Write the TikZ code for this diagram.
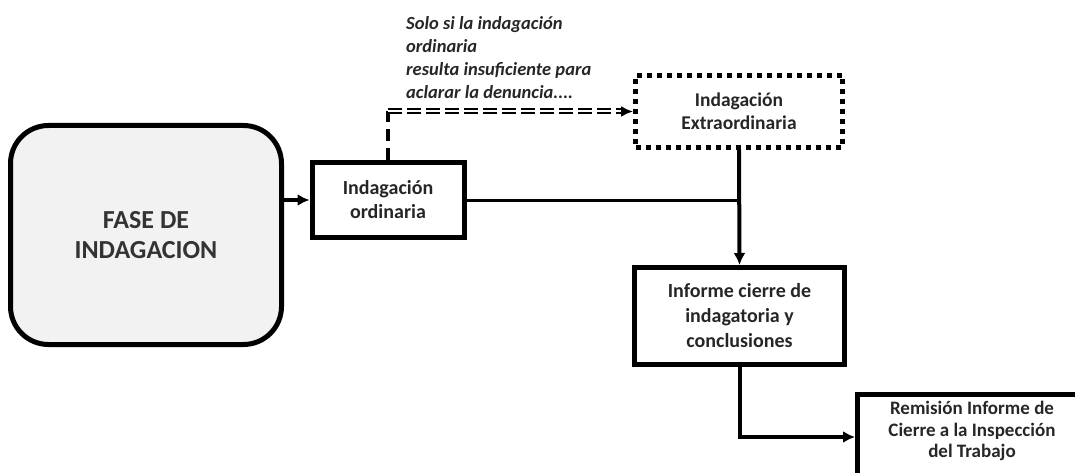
\documentclass[tikz,border=0pt]{standalone}
\usepackage{fontspec}
\setmainfont{Carlito}
\usetikzlibrary{shapes,arrows,arrows.meta,calc}
\tikzstyle{line} = [draw, -{Latex[length=12pt, width=12pt]}, line width=4pt]
\tikzstyle{block} = [draw, rectangle, line width=5pt, text centered, align=center, text=black!85, font=\bfseries\fontsize{20}{24}\selectfont]
\tikzstyle{cloud} = [draw, rectangle, rounded corners=38pt, fill=black!5, line width=5pt, text centered, align=center, text=black!80, font=\bfseries\fontsize{26}{30}\selectfont]
\tikzstyle{dotbox} = [block, dash pattern=on 5pt off 5pt]

\begin{document}
\begin{tikzpicture}[x=1pt, y=-1pt]
        \useasboundingbox (0,0) rectangle (1075,473);
        \clip (0,0) rectangle (1075,473);
        \node[cloud, minimum width=271pt, minimum height=219pt] (fase) at (146,235) {FASE DE\\INDAGACION};
        \node[block, minimum width=152pt, minimum height=75pt] (ord) at (388,200) {Indagación\\ordinaria};
        \node[dotbox, minimum width=207pt, minimum height=72pt, font=\bfseries\fontsize{19.5}{23}\selectfont] (ext) at (739,111.5) {Indagación\\Extraordinaria};
        \node[block, minimum width=210pt, minimum height=97pt, font=\bfseries\fontsize{20}{25}\selectfont] (inf) at (739.5,316) {Informe cierre de\\indagatoria y\\conclusiones};
        \node[block, anchor=north west, minimum width=229pt, minimum height=85pt,
            label={[anchor=north, yshift=-6pt, align=center, text=black!85, font=\bfseries\fontsize{19}{21.5}\selectfont]north:{Remisión Informe de\\Cierre a la Inspección\\del Trabajo}}] (rem) at (855,392) {};
        \node[anchor=north west, align=left, text=black!85, font=\bfseries\itshape\fontsize{18.5}{23}\selectfont, inner sep=0pt] (note) at (406,16) {Solo si la indagación\\ordinaria\\resulta insuficiente para\\aclarar la denuncia....};
        \coordinate (bend) at (ord.north |- ext.west);
        \draw[line width=4pt, dash pattern=on 12pt off 7pt] (ord.north) -- (bend);
        \draw[-{Latex[length=12pt, width=11pt]}, double, double distance=2pt, line width=2pt, dash pattern=on 14pt off 5pt] (bend) -- (ext.west);
        \path[line] (fase.east |- ord.west) -- (ord.west);
        \draw[line width=3pt] (ord.east) -- (ord.east -| ext.south);
        \path[line] (ext.south) -- (inf.north);
        \path[line] (inf.south) |- (rem.west);
    \end{tikzpicture}
\end{document}
